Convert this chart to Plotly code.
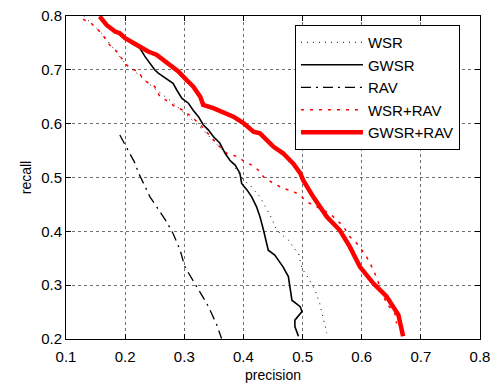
import plotly.graph_objects as go

# ---- data (precision, recall) ----
wsr_p = [0.13, 0.16, 0.20, 0.25, 0.28, 0.33, 0.37, 0.40, 0.411, 0.428, 0.434, 0.448, 0.453, 0.462,
         0.476, 0.484, 0.493, 0.496, 0.499, 0.510, 0.521, 0.529, 0.535, 0.541]
wsr_r = [0.80, 0.768, 0.712, 0.665, 0.640, 0.590, 0.545, 0.495, 0.486, 0.464, 0.452, 0.424, 0.409, 0.396,
         0.384, 0.371, 0.359, 0.344, 0.331, 0.313, 0.291, 0.266, 0.241, 0.211]

gwsr_p = [0.157, 0.169, 0.183, 0.200, 0.211, 0.225, 0.234, 0.242, 0.250, 0.256, 0.270, 0.281, 0.287,
          0.296, 0.307, 0.315, 0.324, 0.332, 0.341, 0.349, 0.360, 0.369, 0.377, 0.386, 0.394, 0.397,
          0.406, 0.414, 0.422, 0.428, 0.434, 0.439, 0.442, 0.453, 0.467, 0.476, 0.479, 0.482, 0.496,
          0.499, 0.487, 0.487, 0.493]
gwsr_r = [0.799, 0.783, 0.771, 0.759, 0.749, 0.740, 0.724, 0.712, 0.700, 0.694, 0.684, 0.675, 0.663,
          0.647, 0.638, 0.625, 0.613, 0.598, 0.588, 0.576, 0.564, 0.545, 0.532, 0.523, 0.508, 0.489,
          0.477, 0.464, 0.446, 0.427, 0.402, 0.380, 0.365, 0.356, 0.334, 0.316, 0.297, 0.272, 0.260,
          0.251, 0.235, 0.223, 0.205]

rav_p = [0.191, 0.197, 0.203, 0.217, 0.222, 0.231, 0.242, 0.253, 0.270, 0.281, 0.293, 0.301, 0.315,
         0.327, 0.338, 0.346, 0.355, 0.363]
rav_r = [0.579, 0.567, 0.554, 0.526, 0.510, 0.489, 0.464, 0.446, 0.418, 0.396, 0.365, 0.334, 0.309,
         0.288, 0.266, 0.248, 0.226, 0.201]

wsrrav_p = [0.129, 0.143, 0.160, 0.174, 0.186, 0.194, 0.200, 0.208, 0.222, 0.228, 0.236, 0.250, 0.259,
            0.273, 0.284, 0.298, 0.312, 0.327, 0.338, 0.349, 0.360, 0.372, 0.389, 0.403, 0.414, 0.425,
            0.434, 0.451, 0.467, 0.484, 0.496, 0.507, 0.529, 0.546, 0.558, 0.569, 0.580, 0.594, 0.608,
            0.620, 0.631, 0.642, 0.656, 0.659]
wsrrav_r = [0.794, 0.786, 0.768, 0.746, 0.734, 0.721, 0.712, 0.703, 0.697, 0.687, 0.678, 0.669, 0.650,
            0.641, 0.632, 0.625, 0.613, 0.598, 0.585, 0.570, 0.557, 0.545, 0.539, 0.529, 0.523, 0.514,
            0.501, 0.489, 0.480, 0.474, 0.467, 0.455, 0.443, 0.433, 0.421, 0.409, 0.390, 0.375, 0.353,
            0.328, 0.297, 0.266, 0.248, 0.229]

gwsrrav_p = [0.157, 0.169, 0.183, 0.191, 0.200, 0.211, 0.225, 0.239, 0.253, 0.262, 0.276, 0.290, 0.304,
             0.315, 0.327, 0.332, 0.349, 0.366, 0.383, 0.400, 0.417, 0.428, 0.434, 0.451, 0.467, 0.484,
             0.496, 0.501, 0.518, 0.541, 0.563, 0.580, 0.597, 0.620, 0.642, 0.662, 0.670]
gwsrrav_r = [0.799, 0.783, 0.771, 0.768, 0.759, 0.752, 0.743, 0.734, 0.728, 0.721, 0.709, 0.697, 0.681,
             0.669, 0.650, 0.635, 0.629, 0.622, 0.613, 0.601, 0.585, 0.582, 0.576, 0.557, 0.545, 0.526,
             0.508, 0.495, 0.464, 0.427, 0.402, 0.371, 0.334, 0.303, 0.279, 0.245, 0.205]

x_ticks = [0.1, 0.2, 0.3, 0.4, 0.5, 0.6, 0.7, 0.8]
y_ticks = [0.2, 0.3, 0.4, 0.5, 0.6, 0.7, 0.8]

FONT = "Liberation Sans, Arial, sans-serif"

fig = go.Figure()
fig.add_trace(go.Scatter(x=wsr_p, y=wsr_r, mode="lines", name="WSR",
                         line=dict(color="black", width=1, dash="1px,5px")))
fig.add_trace(go.Scatter(x=gwsr_p, y=gwsr_r, mode="lines", name="GWSR",
                         line=dict(color="black", width=1.6)))
fig.add_trace(go.Scatter(x=rav_p, y=rav_r, mode="lines", name="RAV",
                         line=dict(color="black", width=1.3, dash="10px,5px,2px,5px")))
fig.add_trace(go.Scatter(x=wsrrav_p, y=wsrrav_r, mode="lines", name="WSR+RAV",
                         line=dict(color="red", width=1.5, dash="3px,6px")))
fig.add_trace(go.Scatter(x=gwsrrav_p, y=gwsrrav_r, mode="lines", name="GWSR+RAV",
                         line=dict(color="red", width=4.5)))

axis_common = dict(
    showline=True, linecolor="black", linewidth=1, mirror="allticks",
    ticks="inside", ticklen=5, tickcolor="black", tickwidth=1,
    showgrid=True, gridcolor="#707070", gridwidth=1, griddash="dot",
    zeroline=False, automargin=False,
    tickfont=dict(family=FONT, size=15, color="black"),
)

fig.update_layout(
    width=492, height=385,
    margin=dict(l=66, r=12, t=16, b=46, autoexpand=False),
    paper_bgcolor="white", plot_bgcolor="white",
    font=dict(family=FONT, size=14, color="black"),
    xaxis=dict(range=[0.1, 0.8], tickvals=x_ticks, ticktext=[f"{v:g}" for v in x_ticks],
               title=dict(text="precision", font=dict(family=FONT, size=14), standoff=6),
               ticklabelstandoff=4,
               **axis_common),
    yaxis=dict(range=[0.2, 0.8], tickvals=y_ticks, ticktext=[f"{v:g}" for v in y_ticks],
               title=dict(text="recall", font=dict(family=FONT, size=14), standoff=6),
               **axis_common),
    legend=dict(x=0.553, y=0.972, xanchor="left", yanchor="top",
                bgcolor="white", bordercolor="black", borderwidth=1,
                font=dict(family=FONT, size=15, color="black"),
                itemwidth=62, tracegroupgap=0),
    showlegend=True,
)

fig.write_html("out.html")
